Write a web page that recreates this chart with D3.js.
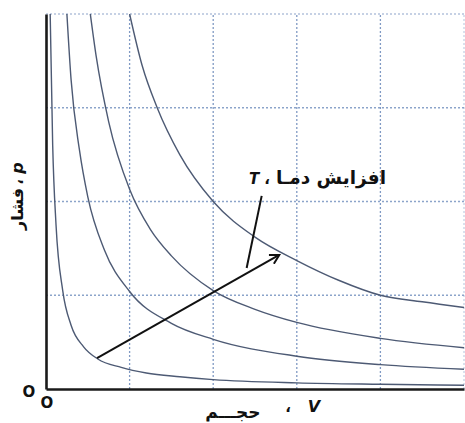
<!DOCTYPE html>
<html>
<head>
<meta charset="utf-8">
<script src="https://cdn.jsdelivr.net/npm/d3@7"></script>
<style>
  html, body { margin: 0; padding: 0; background: #fff; }
  svg { display: block; }
  text { font-family: "DejaVu Sans", sans-serif; fill: #111; }
</style>
</head>
<body>
<svg id="chart" width="465" height="423"></svg>
<script>
// Isotherms of an ideal gas: pressure vs. volume at four temperatures
const isoV1 = [0.05, 0.08, 0.12, 0.2, 0.3, 0.45, 0.62, 0.9, 1.2, 1.6, 2.0, 3.0, 4.0, 5.0];
const isoP1 = [4.0, 2.6, 1.75, 1.05, 0.68, 0.45, 0.32, 0.23, 0.17, 0.13, 0.1, 0.065, 0.05, 0.04];

const isoV2 = [0.25, 0.3, 0.4, 0.5, 0.7, 1.0, 1.5, 2.0, 3.0, 4.0, 5.0];
const isoP2 = [4.0, 3.3, 2.55, 2.05, 1.48, 1.04, 0.7, 0.53, 0.35, 0.26, 0.21];

const isoV3 = [0.53, 0.6, 0.75, 1.0, 1.25, 1.5, 2.0, 2.5, 3.0, 4.0, 5.0];
const isoP3 = [4.0, 3.55, 2.85, 2.13, 1.7, 1.42, 1.05, 0.85, 0.71, 0.54, 0.44];

const isoV4 = [1.0, 1.15, 1.33, 1.6, 2.0, 2.5, 3.0, 3.5, 4.0, 4.5, 5.0];
const isoP4 = [4.0, 3.45, 3.0, 2.5, 2.0, 1.62, 1.37, 1.16, 1.0, 0.93, 0.87];

const gridV = [1, 2, 3, 4, 5];
const gridP = [1, 2, 3, 4];

// Temperature-increase arrow and its leader line, in (V, p)
const arrowFrom = [0.61, 0.33];
const arrowTo = [2.79, 1.43];
const leaderFrom = [2.40, 1.29];
const leaderTo = [2.58, 2.06];

const labelTemp = "افزایش دمـا";
const labelT = "T";
const labelVol = "حجـــم";
const labelV = "V";
const labelPress = "فشار";
const labelP = "p";
const comma = "،";

const svg = d3.select("#chart");
const x = d3.scaleLinear().domain([0, 5]).range([46, 464]);
const y = d3.scaleLinear().domain([0, 4]).range([389, 14]);

svg.append("defs").append("clipPath").attr("id", "plot")
  .append("rect").attr("x", x(0)).attr("y", y(4) - 1)
  .attr("width", x(5) - x(0) + 1).attr("height", y(0) - y(4) + 1);

// dotted grid
const grid = svg.append("g").attr("stroke", "#809ac4").attr("stroke-width", 1.3)
  .attr("stroke-dasharray", "2,2").attr("fill", "none");
grid.selectAll("line.v").data(gridV).join("line").attr("class", "v")
  .attr("x1", d => x(d)).attr("x2", d => x(d))
  .attr("y1", y(0)).attr("y2", y(4))
  .attr("opacity", d => d === 5 ? 0.45 : 1);
grid.selectAll("line.h").data(gridP).join("line").attr("class", "h")
  .attr("x1", x(0)).attr("x2", x(5))
  .attr("y1", d => y(d)).attr("y2", d => y(d))
  .attr("opacity", d => d === 4 ? 0.6 : 0.9);

// isotherms
const curves = [[isoV1, isoP1], [isoV2, isoP2], [isoV3, isoP3], [isoV4, isoP4]]
  .map(([vs, ps]) => vs.map((v, i) => [v, ps[i]]));
const line = d3.line().x(d => x(d[0])).y(d => y(d[1])).curve(d3.curveMonotoneX);
svg.append("g").attr("clip-path", "url(#plot)")
  .selectAll("path").data(curves).join("path")
  .attr("d", line).attr("fill", "none")
  .attr("stroke", "#4d5a74").attr("stroke-width", 1.4);

// axes
const xAxis = d3.axisBottom(x).tickValues([]).tickSizeOuter(0);
const yAxis = d3.axisLeft(y).tickValues([]).tickSizeOuter(0);
svg.append("g").attr("transform", `translate(0,${y(0)})`).call(xAxis)
  .select(".domain").attr("stroke", "#1a1a1a").attr("stroke-width", 2.6);
svg.append("g").attr("transform", `translate(${x(0)},0)`).call(yAxis)
  .select(".domain").attr("stroke", "#1a1a1a").attr("stroke-width", 2.6);

// arrow
svg.select("defs").append("marker").attr("id", "head")
  .attr("viewBox", "0 0 12 12").attr("refX", 10).attr("refY", 6)
  .attr("markerWidth", 12).attr("markerHeight", 12)
  .attr("markerUnits", "userSpaceOnUse").attr("orient", "auto")
  .append("path").attr("d", "M1,1 L10,6 L1,11").attr("fill", "none")
  .attr("stroke", "#111").attr("stroke-width", 2);
svg.append("line")
  .attr("x1", x(arrowFrom[0])).attr("y1", y(arrowFrom[1]))
  .attr("x2", x(arrowTo[0])).attr("y2", y(arrowTo[1]))
  .attr("stroke", "#111").attr("stroke-width", 2).attr("marker-end", "url(#head)");
svg.append("line")
  .attr("x1", x(leaderFrom[0])).attr("y1", y(leaderFrom[1]))
  .attr("x2", x(leaderTo[0])).attr("y2", y(leaderTo[1]))
  .attr("stroke", "#111").attr("stroke-width", 2);

// labels
const bold = sel => sel.attr("font-weight", "bold");
svg.append("text").attr("x", 386).attr("y", 184).attr("text-anchor", "end")
  .attr("font-size", 18.5).call(bold).text(labelTemp);
svg.append("text").attr("x", 267).attr("y", 184).attr("text-anchor", "middle")
  .attr("font-size", 15).call(bold).text(comma);
svg.append("text").attr("x", 254).attr("y", 184).attr("text-anchor", "middle")
  .attr("font-size", 15).attr("font-style", "italic").call(bold).text(labelT);

svg.append("text").attr("x", 233).attr("y", 418).attr("text-anchor", "middle")
  .attr("font-size", 17).call(bold).text(labelVol);
svg.append("text").attr("x", 288).attr("y", 412).attr("text-anchor", "middle")
  .attr("font-size", 15).call(bold).text(comma);
svg.append("text").attr("x", 314).attr("y", 412).attr("text-anchor", "middle")
  .attr("font-size", 16).attr("font-style", "italic").call(bold).text(labelV);

const yl = svg.append("g").attr("transform", "translate(23,0) rotate(-90)");
yl.append("text").attr("x", -209).attr("y", 0).attr("text-anchor", "middle")
  .attr("font-size", 16).call(bold).text(labelPress);
yl.append("text").attr("x", -182).attr("y", 0).attr("text-anchor", "middle")
  .attr("font-size", 15).call(bold).text(comma);
yl.append("text").attr("x", -168).attr("y", 0).attr("text-anchor", "middle")
  .attr("font-size", 16).attr("font-style", "italic").call(bold).text(labelP);

svg.append("text").attr("x", 29).attr("y", 397).attr("text-anchor", "middle")
  .attr("font-size", 15).call(bold).text("O");
svg.append("text").attr("x", 47).attr("y", 408).attr("text-anchor", "middle")
  .attr("font-size", 15).call(bold).text("O");
</script>
</body>
</html>
